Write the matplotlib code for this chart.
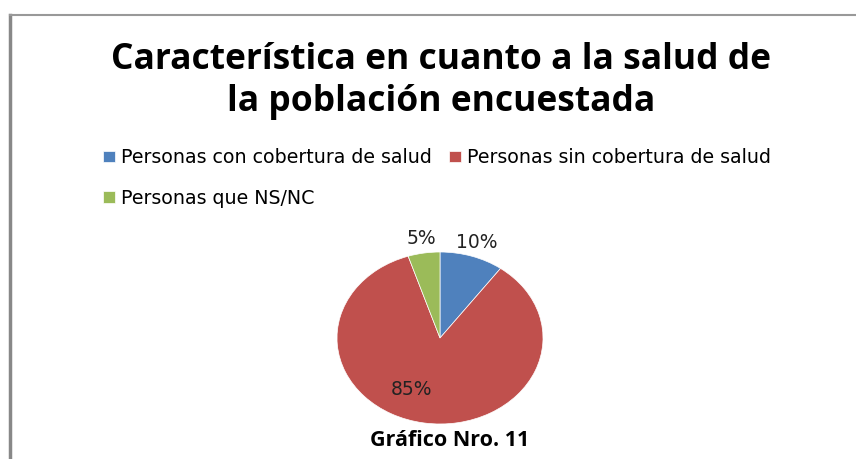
import matplotlib.pyplot as plt
from matplotlib.lines import Line2D
import numpy as np

plt.rcParams["font.family"] = ["Open Sans", "DejaVu Sans"]

title_lines = ["Característica en cuanto a la salud de", "la población encuestada"]
categories = [
    "Personas con cobertura de salud",
    "Personas sin cobertura de salud",
    "Personas que NS/NC",
]
shares = [10, 85, 5]
colors = ["#4F81BD", "#C0504D", "#9BBB59"]
caption = "Gráfico Nro. 11"

W, H = 856, 459
fig = plt.figure(figsize=(W / 100, H / 100), dpi=100)

# chart frame (only top and left edges visible in the crop)
fig.add_artist(Line2D([9.5 / W, 9.5 / W], [0, 1 - 15 / H], transform=fig.transFigure,
                      color="#888888", lw=2.5))
fig.add_artist(Line2D([9.5 / W, 1], [1 - 15 / H, 1 - 15 / H], transform=fig.transFigure,
                      color="#999999", lw=1.5))

fig.text(441 / W, 1 - 60 / H, title_lines[0], ha="center", va="center",
         fontsize=25.5, fontweight="bold")
fig.text(441 / W, 1 - 102 / H, title_lines[1], ha="center", va="center",
         fontsize=25.5, fontweight="bold")

# pie is slightly stretched horizontally in the original
cx, cy, rx, ry = 440, 338, 103, 86
ax = fig.add_axes([(cx - rx) / W, 1 - (cy + ry) / H, 2 * rx / W, 2 * ry / H])
wedges, texts, autotexts = ax.pie(
    shares, colors=colors, startangle=90, counterclock=False,
    autopct="%1.0f%%", pctdistance=0.6, radius=1.0,
    wedgeprops=dict(linewidth=0.5, edgecolor="white"),
    textprops=dict(fontsize=13.5, color="#222222", family="DejaVu Sans"),
)
ax.set_aspect("auto")
ax.set_xlim(-1, 1)
ax.set_ylim(-1, 1)

# label placement (angle shift in degrees, radial distance)
label_place = [(0, 1.17), (-16, 0.66), (0, 1.17)]
for w, t, (shift, dist) in zip(wedges, autotexts, label_place):
    ang = np.deg2rad((w.theta1 + w.theta2) / 2 + shift)
    t.set_position((dist * np.cos(ang), dist * np.sin(ang)))
    t.set_ha("center")
    t.set_va("center")

# legend: reorder so the row-wise layout matches (blue, red / green)
order = [0, 2, 1]
fig.legend([wedges[i] for i in order], [categories[i] for i in order],
           ncol=2, loc="upper left", bbox_to_anchor=(103 / W, 1 - 148 / H),
           frameon=False, prop=dict(family="DejaVu Sans", size=13.7),
           handlelength=0.65, handleheight=0.55,
           handletextpad=0.3, columnspacing=0.9, labelspacing=1.15,
           borderaxespad=0, borderpad=0)

fig.text(450 / W, 1 - 441 / H, caption, ha="center", va="center",
         fontsize=15.5, fontweight="bold")

fig.savefig("out.png", dpi=100, facecolor="white")
